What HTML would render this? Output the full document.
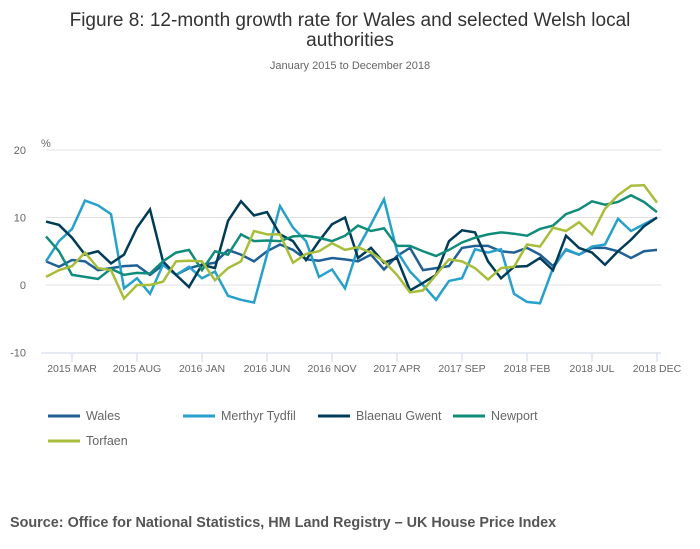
<!DOCTYPE html>
<html><head><meta charset="utf-8"><style>
body{margin:0;background:#fff;font-family:"Liberation Sans",sans-serif;}
#wrap{position:relative;width:700px;height:549px;overflow:hidden;}
</style></head><body>
<div id="wrap">
<svg id="chart" width="700" height="549" xmlns="http://www.w3.org/2000/svg">
<text x="350" y="26" text-anchor="middle" font-size="19" fill="#333">Figure 8: 12-month growth rate for Wales and selected Welsh local</text>
<text x="350" y="46" text-anchor="middle" font-size="19" fill="#333">authorities</text>
<text x="350" y="69" text-anchor="middle" font-size="11" fill="#666">January 2015 to December 2018</text>
<text x="41" y="147" font-size="11" fill="#666">%</text>
<g id="grid"></g><g id="xaxis"></g><g id="series"></g><g id="legend"></g>
<text x="10" y="527" font-size="14.4" font-weight="bold" fill="#555">Source: Office for National Statistics, HM Land Registry – UK House Price Index</text>
</svg>
</div>
<script>
const yTicks=[20,10,0,-10];
const xTickLabels=["2015 MAR","2015 AUG","2016 JAN","2016 JUN","2016 NOV","2017 APR","2017 SEP","2018 FEB","2018 JUL","2018 DEC"];
const xTickIndex=[2,7,12,17,22,27,32,37,42,47];
const seriesNames=["Wales","Merthyr Tydfil","Blaenau Gwent","Newport","Torfaen"];
const seriesColors=["#206095","#27a0cc","#003c57","#118c7b","#a8bd3a"];
const wales=[3.5,2.7,3.7,3.5,2.2,2.5,2.8,2.9,1.5,3.0,1.5,2.5,3.0,3.3,5.2,4.5,3.5,5.0,6.0,5.2,3.8,3.6,4.0,3.8,3.5,4.5,2.3,4.3,5.5,2.2,2.5,2.8,5.5,5.8,5.8,5.0,4.8,5.5,4.5,2.8,5.2,4.5,5.5,5.5,5.0,4.0,5.0,5.2];
const merthyr=[3.5,6.5,8.3,12.5,11.8,10.5,-0.5,1.0,-1.3,3.0,1.5,2.7,1.0,2.0,-1.6,-2.2,-2.6,4.5,11.7,8.5,6.5,1.2,2.3,-0.5,5.5,9.0,12.7,5.0,2.0,0.0,-2.2,0.6,1.0,5.3,4.8,5.3,-1.3,-2.5,-2.7,2.5,5.3,4.5,5.7,6.0,9.8,8.0,9.0,10.0];
const blaenau=[9.4,8.9,7.0,4.5,5.0,3.2,4.5,8.5,11.2,3.5,1.5,-0.3,3.0,2.5,9.5,12.4,10.3,10.8,7.5,6.5,3.7,6.5,9.0,10.0,4.0,5.5,3.3,4.0,-0.8,0.3,1.5,6.5,8.1,7.8,3.5,1.0,2.7,2.8,4.0,2.2,7.3,5.5,4.8,3.0,5.0,6.7,8.7,10.0];
const newport=[7.2,5.0,1.5,1.2,0.9,2.4,1.5,1.8,1.7,3.5,4.8,5.2,2.2,5.0,4.5,7.5,6.5,6.6,6.5,7.2,7.3,7.0,6.5,7.3,8.8,8.0,8.4,5.8,5.8,5.0,4.3,5.2,6.3,7.0,7.5,7.8,7.6,7.3,8.3,8.8,10.5,11.2,12.4,11.9,12.3,13.3,12.3,10.8];
const torfaen=[1.2,2.2,2.8,4.8,2.5,2.2,-2.0,0.0,0.0,0.5,3.5,3.6,3.5,0.7,2.5,3.5,8.0,7.5,7.5,3.3,4.6,5.0,6.2,5.2,5.6,4.8,3.5,1.5,-1.1,-0.8,1.5,3.8,3.5,2.5,0.8,2.5,2.7,6.0,5.7,8.5,8.0,9.3,7.5,11.3,13.3,14.7,14.8,12.2];
const allSeries=[wales,merthyr,blaenau,newport,torfaen];
const NS="http://www.w3.org/2000/svg";
function xPos(i){return 46+i*13;}
function yPos(v){return 285-v*6.75;}
function mk(tag,attrs,parent){const e=document.createElementNS(NS,tag);for(const k in attrs)e.setAttribute(k,attrs[k]);parent.appendChild(e);return e;}
const grid=document.getElementById('grid');
yTicks.forEach(t=>{
  if(t!==-10){const l=mk('line',{x1:46,x2:661,y1:yPos(t),y2:yPos(t),stroke:'#e0e0e0','stroke-width':1},grid);
  
  }
  const tx=mk('text',{x:26,y:yPos(t)+4,'text-anchor':'end','font-size':11,fill:'#666'},grid);
  tx.textContent=t;
  
  
});
const xa=document.getElementById('xaxis');
const ax=mk('line',{x1:41,x2:661,y1:353,y2:353,stroke:'#ccd6eb','stroke-width':1},xa);


xTickLabels.forEach((lab,k)=>{
  const x=xPos(xTickIndex[k]);
  const tk=mk('line',{x1:x,x2:x,y1:353,y2:362,stroke:'#ccd6eb','stroke-width':1},xa);
  
  
  const t=mk('text',{x:x,y:372,'text-anchor':'middle','font-size':10.5,fill:'#666'},xa);
  t.textContent=lab;
  
  
});
const sg=document.getElementById('series');
allSeries.forEach((d,s)=>{
  const pts=d.map((v,i)=>xPos(i)+','+yPos(v)).join(' ');
  const p=mk('polyline',{points:pts,fill:'none',stroke:seriesColors[s],'stroke-width':2.5,'stroke-linejoin':'miter'},sg);
  
  
});
const lg=document.getElementById('legend');
const legX=[48,183,318,453,48];const legY=[416,416,416,416,441];
seriesNames.forEach((n,s)=>{
  const g=mk('g',{},lg);
  
  
  mk('line',{x1:legX[s],x2:legX[s]+32,y1:legY[s],y2:legY[s],stroke:seriesColors[s],'stroke-width':3},g);
  const t=mk('text',{x:legX[s]+38,y:legY[s]+4,'font-size':12.5,fill:'#666'},g);
  t.textContent=n;
});
</script>
</body></html>
